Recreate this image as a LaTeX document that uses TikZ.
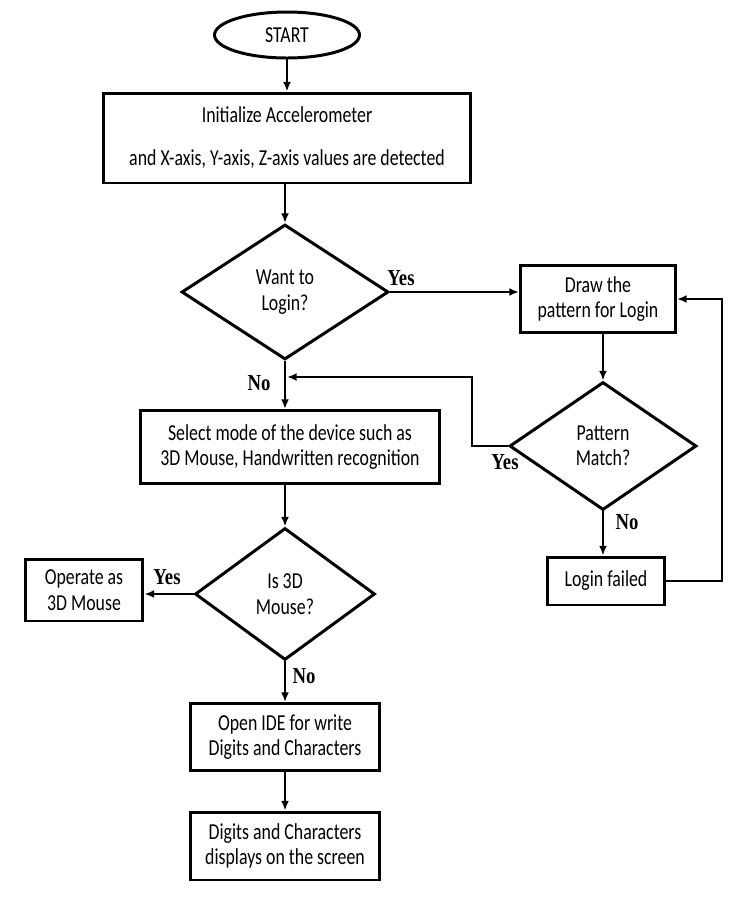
\documentclass[tikz,border=0pt]{standalone}
\usepackage{fontspec}
\setmainfont{Carlito}[FakeStretch=0.78]
\newfontfamily\ynfont{Liberation Serif}[FakeStretch=0.82]
\usetikzlibrary{shapes.geometric,arrows.meta}

\begin{document}
\begin{tikzpicture}[x=0.02cm,y=-0.02cm,
    every node/.style={font=\fontsize{13}{14.5}\selectfont},
    stepbox/.style={draw,line width=1.7pt,align=center,inner sep=0pt},
    decide/.style={draw,diamond,line width=1.7pt,align=center,inner sep=0pt},
    arr/.style={line width=1.1pt,-{Latex[length=5.5pt,width=4.5pt]}},
    yn/.style={font=\ynfont\bfseries\fontsize{13}{14}\selectfont}]
    \useasboundingbox (0,0) rectangle (753,904);
    % left column
    \node[draw,ellipse,line width=1.7pt,minimum width=2.9cm,minimum height=0.92cm] (start) at (287,35) {START};
    \node[stepbox,minimum width=7.34cm,minimum height=1.8cm] (init) at (287,138)
        {Initialize Accelerometer\\[10pt] and X-axis, Y-axis, Z-axis values are detected};
    \node[decide,minimum width=4.14cm,minimum height=2.7cm] (login) at (285,292) {Want to\\Login?};
    \node[stepbox,minimum width=6cm,minimum height=1.46cm] (mode) at (290,447)
        {Select mode of the device such as\\3D Mouse, Handwritten recognition};
    \node[decide,minimum width=3.6cm,minimum height=2.64cm] (mouse) at (285,594) {Is 3D\\Mouse?};
    \node[stepbox,minimum width=2.36cm,minimum height=1.24cm] (operate) at (84,590) {Operate as\\3D Mouse};
    \node[stepbox,minimum width=3.8cm,minimum height=1.34cm] (ide) at (285,737) {Open IDE for write\\Digits and Characters};
    \node[stepbox,minimum width=3.8cm,minimum height=1.36cm] (show) at (285,846) {Digits and Characters\\displays on the screen};
    % right column
    \node[stepbox,minimum width=3.1cm,minimum height=1.34cm] (pattern) at (598,299) {Draw the\\pattern for Login};
    \node[decide,minimum width=3.74cm,minimum height=2.56cm] (match) at (603,446) {Pattern\\Match?};
    \node[stepbox,minimum width=2.34cm,minimum height=0.96cm] (failed) at (606,581) {Login failed};
    \coordinate (join) at (287,377);
    \coordinate (back) at (472,446);
    \coordinate (loop) at (722,299);

    \draw[arr] (start) -- (init);
    \draw[arr] (init.south -| login.north) -- (login);
    \draw[arr] (login.south) -- (login.south |- mode.north);
    \draw[arr] (mode.south -| mouse.north) -- (mouse);
    \draw[arr] (mouse) -- (ide);
    \draw[arr] (ide) -- (show);
    \draw[arr] (mouse.west) -- (operate.east |- mouse.west);
    \draw[arr] (login.east) -- (pattern.west |- login.east);
    \draw[arr] (pattern.south -| match.north) -- (match);
    \draw[arr] (match.south) -- (match.south |- failed.north);
    \draw[arr] (match.west) -- (back) |- (join);
    \draw[arr] (failed.east) -| (loop) -- (pattern.east);

    \node[yn] (y1) at (401,278) {Yes};
    \node[yn] (n1) at (259,383) {No};
    \node[yn] (y2) at (505,462) {Yes};
    \node[yn] (n2) at (627,522) {No};
    \node[yn] (y3) at (167,577) {Yes};
    \node[yn] (n3) at (304,676) {No};
\end{tikzpicture}
\end{document}
